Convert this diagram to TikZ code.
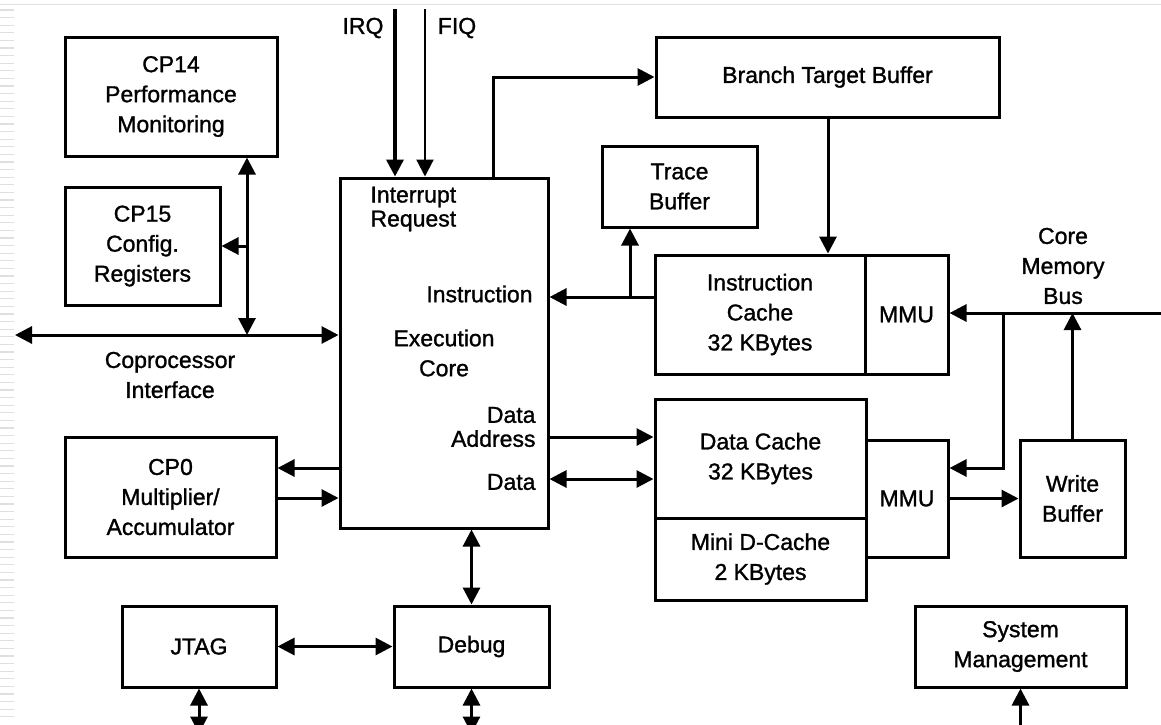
\documentclass[tikz,border=0pt]{standalone}
\usepackage{fontspec}
\setmainfont{Liberation Sans}[BoldFont=Liberation Sans,BoldFeatures={FakeBold=1.2}]
\usetikzlibrary{arrows.meta}

\begin{document}
\begin{tikzpicture}[x=1pt,y=-1pt,line width=3pt,>={Triangle[length=17pt,width=17pt]},
  font=\fontsize{23}{30}\selectfont\bfseries,
  blk/.style={draw,inner sep=0pt,align=center},
  lbl/.style={inner sep=0pt,align=center},
  tight/.style={font=\fontsize{23}{24}\selectfont\bfseries}]
\useasboundingbox (0,0) rectangle (1161,724);
\clip (0,0) rectangle (1161,724);
\fill[white] (0,0) rectangle (1161,724);
\draw[gray!25,line width=1.5pt] (0,4.5) -- (1161,4.5);
\foreach \k in {0,...,93} \draw[gray!25,line width=1.2pt] (0,10+7.6*\k) -- (14,10+7.6*\k);

\node[blk,minimum width=212pt,minimum height=119pt] (cp14) at (171,96.5) {CP14\\Performance\\Monitoring};
\node[blk,minimum width=155pt,minimum height=118pt] (cp15) at (142.5,246) {CP15\\Config.\\Registers};
\node[blk,minimum width=211pt,minimum height=120pt] (cp0) at (170.5,497) {CP0\\Multiplier/\\Accumulator};
\node[blk,minimum width=208pt,minimum height=350pt] (core) at (444,353) {Execution\\Core};
\node[blk,minimum width=154pt,minimum height=81pt] (jtag) at (199,646.5) {JTAG};
\node[blk,minimum width=155pt,minimum height=81pt] (debug) at (471.5,646.5) {Debug};
\node[blk,minimum width=343pt,minimum height=80pt] (btb) at (827.5,77) {Branch Target Buffer};
\node[blk,minimum width=155pt,minimum height=81pt] (trace) at (679.5,186.5) {Trace\\Buffer};
\node[blk,minimum width=210pt,minimum height=119pt] (icache) at (760,314.5) {Instruction\\Cache\\32 KBytes};
\node[blk,minimum width=83pt,minimum height=119pt] (immu) at (906.5,314.5) {MMU};
\node[blk,minimum width=211pt,minimum height=119pt] (dcache) at (760.5,458.5) {Data Cache\\32 KBytes};
\node[blk,minimum width=211pt,minimum height=82pt] (mini) at (760.5,559) {Mini D-Cache\\2 KBytes};
\node[blk,minimum width=82pt,minimum height=117pt] (dmmu) at (907,498.5) {MMU};
\node[blk,minimum width=105pt,minimum height=117pt] (wbuf) at (1072.5,498.5) {Write\\Buffer};
\node[blk,minimum width=211pt,minimum height=81pt] (sysman) at (1020.5,646.5) {System\\Management};

\node[lbl] (irqlbl) at (363,28) {IRQ};
\node[lbl] (fiqlbl) at (457,28) {FIQ};
\node[lbl,tight,anchor=west,align=left] (intreq) at (369,209) {Interrupt\\Request};
\node[lbl,anchor=east] (instlbl) at (534,294) {Instruction};
\node[lbl,tight,anchor=east,align=right] (dalbl) at (537,427) {Data\\Address};
\node[lbl,anchor=east] (datalbl) at (537,482) {Data};
\node[lbl] (cpif) at (170,375) {Coprocessor\\Interface};
\node[lbl] (cmb) at (1063,266) {Core\\Memory\\Bus};

\coordinate (cpl) at (15,335);
\coordinate (cpj) at (247,335);
\draw[<->] (cpl) -- (core.west |- cpl);
\draw[<->] (cpj |- cp14.south) -- (cpj);
\draw[->] (cpj |- cp15.east) -- (cp15.east);
\draw[->] (core.west |- 0,468) -- (cp0.east |- 0,468);
\draw[->] (cp0.east |- 0,498) -- (core.west |- 0,498);

\coordinate (irq) at (395,9);
\coordinate (fiq) at (425,9);
\draw[->,line width=3.5pt] (irq) -- (irq |- core.north);
\draw[->,line width=2.2pt] (fiq) -- (fiq |- core.north);
\draw[->] (core.north -| 493,0) |- (btb.west);
\draw[->] (btb.south -| 828,0) -- (icache.north -| 828,0);
\coordinate (trj) at (630,297);
\draw[->] (icache.west |- trj) -- (core.east |- trj);
\draw[->] (trj) -- (trace.south -| trj);
\draw[->] (core.east |- 0,437) -- (dcache.west |- 0,437);
\draw[<->] (core.east |- 0,479) -- (dcache.west |- 0,479);

\draw[<->] (debug.north |- core.south) -- (debug.north);
\draw[<->] (jtag.east) -- (debug.west);
\draw[<->] (jtag.south) -- ++(0,45);
\draw[<->] (debug.south) -- ++(0,45);
\draw[->] (sysman.south |- 0,735) -- (sysman.south);

\coordinate (bus) at (1165,313);
\coordinate (busj) at (1003,313);
\draw[->] (bus) -- (immu.east |- bus);
\draw[->] (busj) |- (dmmu.east |- 0,468);
\draw[->] (wbuf.north) -- (wbuf.north |- bus);
\draw[->] (dmmu.east) -- (wbuf.west);
\end{tikzpicture}
\end{document}
